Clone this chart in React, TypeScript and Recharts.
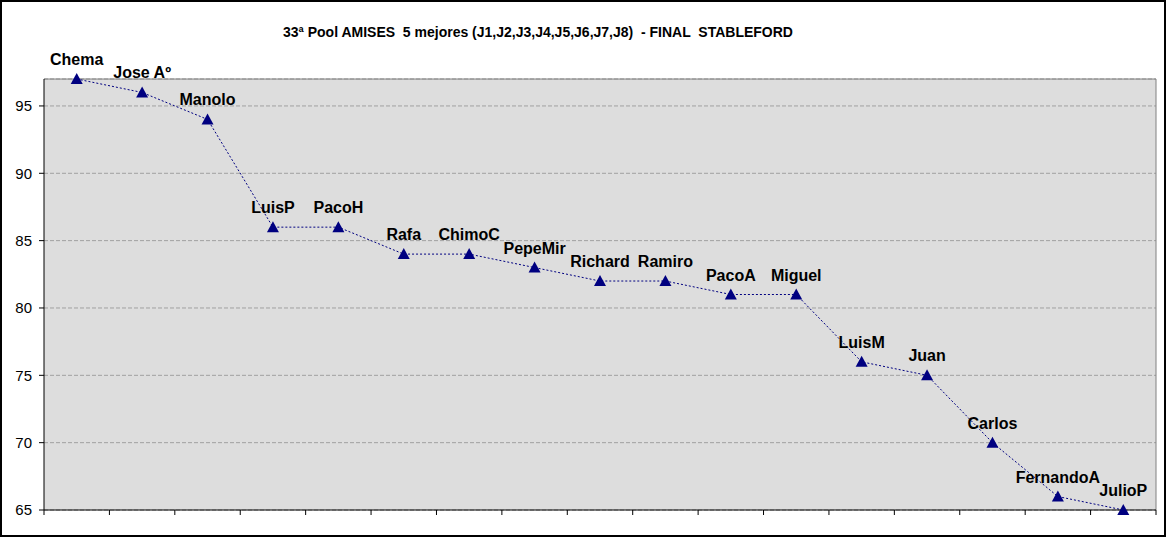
import React from 'react';
import { LineChart, Line, XAxis, YAxis, CartesianGrid, ReferenceLine, LabelList } from 'recharts';

const players = [
  'Chema', 'Jose Aº', 'Manolo', 'LuisP', 'PacoH', 'Rafa', 'ChimoC', 'PepeMir', 'Richard',
  'Ramiro', 'PacoA', 'Miguel', 'LuisM', 'Juan', 'Carlos', 'FernandoA', 'JulioP',
];
const points = [97, 96, 94, 86, 86, 84, 84, 83, 82, 82, 81, 81, 76, 75, 70, 66, 65];
const yTicks = [65, 70, 75, 80, 85, 90, 95];

const chartTitle = '33ª Pool AMISES  5 mejores (J1,J2,J3,J4,J5,J6,J7,J8)  - FINAL  STABLEFORD';

const font = 'Arial, "Liberation Sans", sans-serif';

// x is the position index; ticks go on the borders between categories
const data = players.map((name, i) => ({ x: i, name, score: points[i] }));
const xTicks = [...players.map((_, i) => i - 0.5), players.length - 0.5];

const Triangle = (props: any) => {
  const { cx, cy } = props;
  if (cx == null || cy == null) return null;
  return <polygon points={`${cx},${cy - 6} ${cx - 6},${cy + 5} ${cx + 6},${cy + 5}`} fill="#000080" />;
};

const App = () => {
  return (
    <div style={{ position: 'absolute', left: 0, top: 0, width: 1170, height: 537, background: '#fff' }}>
      <div
        style={{
          position: 'absolute', left: 0, top: 0, width: 1166, height: 537,
          border: '2px solid #000', boxSizing: 'border-box',
        }}
      />
      <div
        style={{
          position: 'absolute', left: 238, top: 24, width: 600, textAlign: 'center',
          whiteSpace: 'pre', fontFamily: font, fontWeight: 'bold', fontSize: 14, color: '#000',
        }}
      >
        {chartTitle}
      </div>
      <LineChart
        width={1170}
        height={537}
        data={data}
        margin={{ top: 79, right: 14, bottom: 17, left: 10 }}
        style={{ position: 'absolute', left: 0, top: 0 }}
      >
        <CartesianGrid vertical={false} fill="#DDDDDD" stroke="#A0A0A0" strokeDasharray="4 2" />
        <XAxis
          type="number"
          dataKey="x"
          domain={[-0.5, players.length - 0.5]}
          ticks={xTicks}
          tickFormatter={() => ''}
          tickSize={5}
          height={10}
          axisLine={{ stroke: '#000' }}
          tickLine={{ stroke: '#000' }}
        />
        <YAxis
          domain={[65, 97]}
          ticks={yTicks}
          width={34}
          tickSize={5}
          tickMargin={7}
          axisLine={{ stroke: '#000' }}
          tickLine={{ stroke: '#000' }}
          tick={{ fill: '#000', fontSize: 15, fontFamily: font }}
        />
        <ReferenceLine y={97} stroke="#808080" />
        <ReferenceLine x={players.length - 0.5} stroke="#808080" />
        <Line
          type="linear"
          dataKey="score"
          stroke="#000080"
          strokeWidth={1}
          strokeDasharray="2 2"
          dot={<Triangle />}
          activeDot={false}
          isAnimationActive={false}
        >
          <LabelList
            dataKey="name"
            position="top"
            offset={14}
            fill="#000"
            fontSize={16}
            fontWeight="bold"
            fontFamily={font}
          />
        </Line>
      </LineChart>
    </div>
  );
};

export default App;
